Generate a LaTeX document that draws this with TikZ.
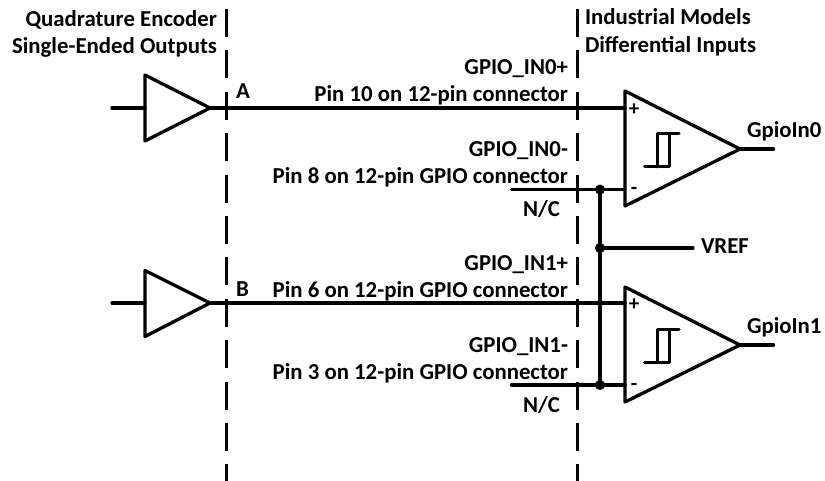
\documentclass[tikz,border=0pt]{standalone}
\usepackage{fontspec}
\setmainfont{Carlito}
\tikzset{
  x=1pt,y=-1pt,
  wire/.style={line width=3.3pt,black,line cap=round,line join=round},
  thin wire/.style={line width=3pt,black,line join=round,line cap=round},
  boundary/.style={line width=2.5pt,black,dash pattern=on 28pt off 13.4pt},
  lbl/.style={inner sep=0pt,outer sep=0pt,font=\fontsize{22.8}{26}\selectfont\bfseries},
  le/.style={lbl,anchor=base east},
  lw/.style={lbl,anchor=base west},
  dotnode/.style={circle,fill=black,draw=none,minimum size=10pt,inner sep=0pt},
  pm/.style={inner sep=0pt,outer sep=0pt,font=\fontsize{21}{24}\selectfont\bfseries}
}
\begin{document}
\begin{tikzpicture}
\useasboundingbox (0,0) rectangle (825,481);
% boundaries
\coordinate (lt) at (226.5,9); \coordinate (lb) at (226.5,481);
\coordinate (rt) at (577.3,9); \coordinate (rb) at (577.3,481);
\draw[boundary] (lt) -- (lb);
\draw[boundary] (rt) -- (rb);
% encoder buffers
\coordinate (b0t) at (145,75); \coordinate (b0b) at (145,141); \coordinate (b0o) at (210,108);
\coordinate (b0i) at (145,108); \coordinate (b0s) at (112,108);
\coordinate (b1t) at (145,270.5); \coordinate (b1b) at (145,336.5); \coordinate (b1o) at (210,303);
\coordinate (b1i) at (145,303); \coordinate (b1s) at (112,303);
\draw[wire] (b0t) -- (b0o) -- (b0b) -- cycle;
\draw[wire] (b1t) -- (b1o) -- (b1b) -- cycle;
\draw[wire] (b0s) -- (b0i);
\draw[wire] (b1s) -- (b1i);
% comparators
\coordinate (c0t) at (625,91); \coordinate (c0b) at (625,206); \coordinate (c0o) at (740,149);
\coordinate (c0p) at (625,108); \coordinate (c0m) at (625,189.5); \coordinate (c0e) at (773.5,149);
\coordinate (c1t) at (625,287); \coordinate (c1b) at (625,402); \coordinate (c1o) at (740,345);
\coordinate (c1p) at (625,303); \coordinate (c1m) at (625,385); \coordinate (c1e) at (773.5,345);
\draw[wire] (c0t) -- (c0o) -- (c0b) -- cycle;
\draw[wire] (c1t) -- (c1o) -- (c1b) -- cycle;
\draw[wire] (c0o) -- (c0e);
\draw[wire] (c1o) -- (c1e);
\draw[wire] (b0o) -- (c0p);
\draw[wire] (b1o) -- (c1p);
% minus wires and vref
\coordinate (m0s) at (511.5,189.5); \coordinate (m1s) at (511.5,385);
\node[dotnode] (j0) at (600,189.5) {};
\node[dotnode] (jv) at (600,248) {};
\node[dotnode] (j1) at (600,385) {};
\coordinate (ve) at (693,248);
\draw[wire] (m0s) -- (c0m);
\draw[wire] (m1s) -- (c1m);
\draw[wire] (j0.center) -- (jv.center) -- (j1.center);
\draw[wire] (jv.center) -- (ve);
% hysteresis
\coordinate (h0a) at (644.5,167); \coordinate (h0b) at (669,167); \coordinate (h0c) at (669,133.5);
\coordinate (h0d) at (657,133.5); \coordinate (h0e) at (657,167); \coordinate (h0f) at (679,133.5);
\coordinate (h1a) at (644.5,362.5); \coordinate (h1b) at (669,362.5); \coordinate (h1c) at (669,329.5);
\coordinate (h1d) at (657,329.5); \coordinate (h1e) at (657,362.5); \coordinate (h1f) at (679,329.5);
\draw[thin wire] (h0a) -- (h0b) -- (h0c);
\draw[thin wire] (h0e) -- (h0d) -- (h0f);
\draw[thin wire] (h1a) -- (h1b) -- (h1c);
\draw[thin wire] (h1e) -- (h1d) -- (h1f);
% signs
\node[pm] (p0) at (634,109.5) {+};
\node[pm] (n0) at (634,191) {-};
\node[pm] (p1) at (634,304.5) {+};
\node[pm] (n1) at (634,386.5) {-};
% text
\node[le] (t1) at (217,27) {Quadrature Encoder};
\node[le] (t2) at (217,53.5) {Single-Ended Outputs};
\node[lw] (t3) at (585,25) {Industrial Models};
\node[lw] (t4) at (585,52.5) {Differential Inputs};
\node[lw] (a) at (236,99) {A};
\node[lw] (b) at (236,296) {B};
\node[le] (g0p) at (568,75) {GPIO\_IN0+};
\node[le] (p10) at (568,102) {Pin 10 on 12-pin connector};
\node[le] (g0m) at (568,156.5) {GPIO\_IN0-};
\node[le] (p8) at (568,183.5) {Pin 8 on 12-pin GPIO connector};
\node[le] (nc0) at (560,217) {N/C};
\node[le] (g1p) at (568,271) {GPIO\_IN1+};
\node[le] (p6) at (568,298) {Pin 6 on 12-pin GPIO connector};
\node[le] (g1m) at (568,352) {GPIO\_IN1-};
\node[le] (p3) at (568,379.5) {Pin 3 on 12-pin GPIO connector};
\node[le] (nc1) at (560,412) {N/C};
\node[lw] (o0) at (747,138) {GpioIn0};
\node[lw] (o1) at (747,333) {GpioIn1};
\node[lw] (vr) at (701,254) {VREF};
\end{tikzpicture}
\end{document}
